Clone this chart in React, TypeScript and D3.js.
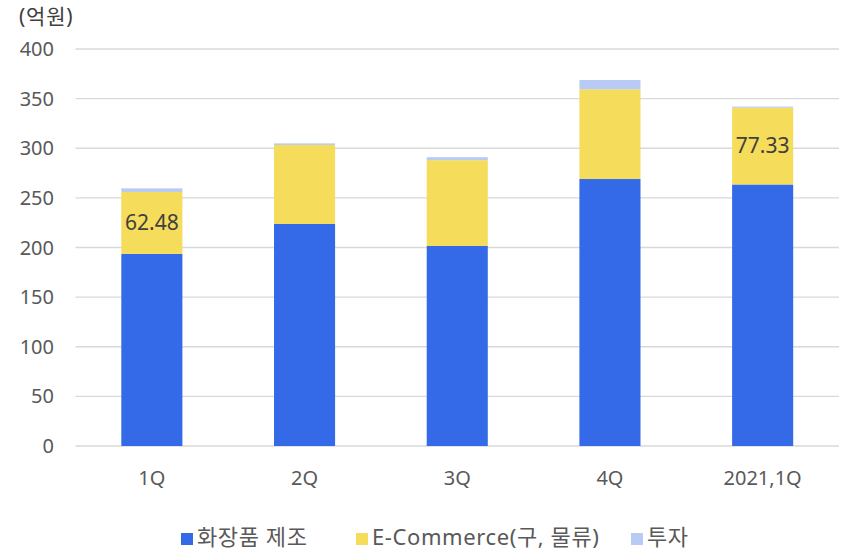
import React from "react";
import * as d3 from "d3";

const categories = ["1Q", "2Q", "3Q", "4Q", "2021,1Q"];
const cosmetics = [193.5, 223.7, 201.5, 269, 263.5];
const ecommerce = [62.48, 79.6, 86.5, 90.4, 77.33];
const invest = [3.6, 1.6, 3, 9.4, 1.2];
const yTicks = [0, 50, 100, 150, 200, 250, 300, 350, 400];
const seriesNames = ["화장품 제조", "E-Commerce(구, 물류)", "투자"];
const colors = ["#3469E8", "#F5DC5A", "#B8CBF5"];
const labelled = [0, 4];

const W = 851, H = 552;
const font = "'Noto Sans', 'Noto Sans CJK KR', sans-serif";

export default function App() {
  const x = d3.scaleBand().domain(categories).range([75.5, 839]).paddingInner(0.6).paddingOuter(0.3);
  const y = d3.scaleLinear().domain([0, 400]).range([446, 49]);
  const series = [cosmetics, ecommerce, invest];
  const stack = categories.map((c, i) => {
    let acc = 0;
    return series.map((s) => {
      const y0 = acc;
      acc += s[i];
      return [y0, acc];
    });
  });
  const legendX = [181, 356, 631];
  return (
    <svg width={W} height={H} style={{ position: "absolute", left: 0, top: 0 }} fontFamily={font}>
      <rect width={W} height={H} fill="#fff" />
      <text x={19} y={24} fontSize={21} letterSpacing={0.8} fill="#404040">(억원)</text>
      {yTicks.map((t) => (
        <g key={t}>
          <line x1={75.5} x2={839} y1={y(t)} y2={y(t)} stroke="#D9D9D9" strokeWidth={1.3} />
          <text x={54} y={y(t)} dy="0.35em" textAnchor="end" fontSize={20} fill="#595959">{t}</text>
        </g>
      ))}
      {categories.map((c, i) => (
        <g key={c}>
          {stack[i].map(([a, b], k) => (
            <rect key={k} x={x(c)} width={x.bandwidth()} y={y(b)} height={y(a) - y(b)} fill={colors[k]} />
          ))}
          <text x={x(c)! + x.bandwidth() / 2} y={478} dy="0.35em" textAnchor="middle" fontSize={20} fill="#595959">{c}</text>
          {labelled.includes(i) && (
            <text x={x(c)! + x.bandwidth() / 2} y={(y(stack[i][1][0]) + y(stack[i][1][1])) / 2} dy="0.35em" textAnchor="middle" fontSize={21} fill="#404040">
              {ecommerce[i].toFixed(2)}
            </text>
          )}
        </g>
      ))}
      {seriesNames.map((n, k) => (
        <g key={n}>
          <rect x={legendX[k]} y={533} width={12} height={12} fill={colors[k]} />
          <text x={legendX[k] + 16} y={537} dy="0.35em" fontSize={22} letterSpacing={0.6} fill="#595959">{n}</text>
        </g>
      ))}
    </svg>
  );
}
